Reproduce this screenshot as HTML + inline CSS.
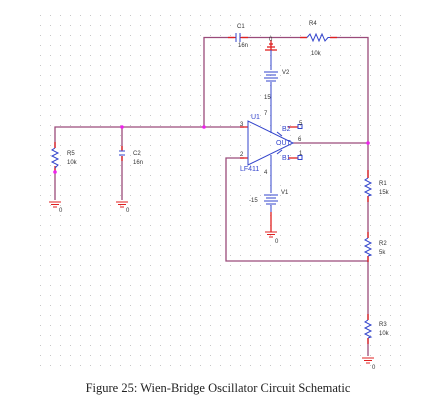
<!DOCTYPE html>
<html><head><style>
html,body{margin:0;padding:0;background:#fff;}
svg{display:block;}
.t{font-family:"Liberation Sans",sans-serif;font-size:6px;fill:#333;}
.b{font-family:"Liberation Sans",sans-serif;font-size:7px;fill:#3344cc;}
</style></head><body>
<svg width="436" height="410" viewBox="0 0 436 410" xmlns="http://www.w3.org/2000/svg">
<defs>
<pattern id="g" x="0" y="5" width="10" height="10" patternUnits="userSpaceOnUse">
<rect x="0" y="0" width="1" height="1" fill="#c8c8c8"/>
</pattern>
<g id="gd" stroke="#e02020" stroke-width="1" fill="none"><line x1="-6" y1="0" x2="6" y2="0"/><line x1="-4" y1="2.5" x2="4" y2="2.5"/><line x1="-2" y1="5" x2="2" y2="5"/></g>
</defs>
<rect x="40" y="15" width="370" height="360" fill="url(#g)"/>
<g fill="none" stroke="#9a4a7a" stroke-width="1.3">
<polyline points="204,127 204,37.5 234,37.5"/>
<line x1="242" y1="37.5" x2="307" y2="37.5"/>
<polyline points="330,37.5 368,37.5 368,178"/>
<line x1="368" y1="196" x2="368" y2="238"/>
<line x1="368" y1="256" x2="368" y2="320"/>
<line x1="368" y1="338" x2="368" y2="356"/>
<polyline points="55,148 55,127 244,127"/>
<line x1="55" y1="168" x2="55" y2="200"/>
<line x1="122" y1="127" x2="122" y2="150"/>
<line x1="122" y1="156" x2="122" y2="200"/>
<line x1="293" y1="143" x2="368" y2="143"/>
<polyline points="244,158 226,158 226,261 368,261"/>
</g>
<g stroke="#e02020" stroke-width="1.3" fill="none">
<line x1="368" y1="170" x2="368" y2="178"/><line x1="368" y1="196" x2="368" y2="202"/>
<line x1="368" y1="232" x2="368" y2="238"/><line x1="368" y1="256" x2="368" y2="262"/>
<line x1="368" y1="314" x2="368" y2="320"/><line x1="368" y1="338" x2="368" y2="344"/>
<line x1="55" y1="142" x2="55" y2="148"/><line x1="55" y1="166" x2="55" y2="172"/>
<line x1="122" y1="146" x2="122" y2="151"/><line x1="122" y1="156" x2="122" y2="161"/>
<line x1="300" y1="37.5" x2="307" y2="37.5"/><line x1="330" y1="37.5" x2="337" y2="37.5"/>
<line x1="228" y1="37.5" x2="236" y2="37.5"/><line x1="240" y1="37.5" x2="248" y2="37.5"/>
<line x1="271" y1="40" x2="271" y2="50"/>
<line x1="240" y1="127" x2="248" y2="127"/><line x1="240" y1="158" x2="248" y2="158"/>
<line x1="288" y1="127" x2="298" y2="127"/><line x1="288" y1="158" x2="298" y2="158"/>
<line x1="271" y1="212" x2="271" y2="232"/>
<line x1="265" y1="50" x2="277" y2="50"/><line x1="267" y1="47" x2="275" y2="47"/><line x1="269" y1="44" x2="273" y2="44"/>
</g>
<use href="#gd" x="55" y="202"/><use href="#gd" x="122" y="202"/><use href="#gd" x="271" y="232"/><use href="#gd" x="368" y="358"/>
<g stroke="#3344cc" stroke-width="1" fill="none">
<line x1="271" y1="50" x2="271" y2="70"/><line x1="271" y1="82" x2="271" y2="133"/>
<line x1="264" y1="72" x2="278" y2="72"/><line x1="266" y1="75" x2="276" y2="75"/><line x1="264" y1="78" x2="278" y2="78"/><line x1="266" y1="81" x2="276" y2="81"/>
<line x1="271" y1="155" x2="271" y2="193"/><line x1="271" y1="205" x2="271" y2="212"/>
<line x1="264" y1="195" x2="278" y2="195"/><line x1="266" y1="198" x2="276" y2="198"/><line x1="264" y1="201" x2="278" y2="201"/><line x1="266" y1="204" x2="276" y2="204"/>
<polygon points="248,121 248,165 293,143"/>
<line x1="236" y1="33" x2="236" y2="42"/><line x1="240" y1="33" x2="240" y2="42"/>
<line x1="119" y1="151" x2="125" y2="151"/><line x1="119" y1="155" x2="125" y2="155"/>
<polyline points="307,37.5 310,34 313,41 316,34 319,41 322,34 325,41 328,37.5 330,37.5"/>
<polyline points="55,148 52,150 58,153 52,156 58,159 52,162 58,165 55,168"/>
<polyline points="368,178 365,180 371,183 365,186 371,189 365,192 371,195 368,196"/>
<polyline points="368,238 365,240 371,243 365,246 371,249 365,252 371,255 368,256"/>
<polyline points="368,320 365,322 371,325 365,328 371,331 365,334 371,337 368,338"/>
<line x1="282" y1="136" x2="277" y2="132"/><line x1="282" y1="150" x2="277" y2="154"/>
<rect x="298" y="124.5" width="4" height="4"/><rect x="298" y="155.5" width="4" height="4"/>
</g>
<g fill="#ee22ee">
<circle cx="122" cy="127" r="1.8"/><circle cx="204" cy="127" r="1.8"/><circle cx="368" cy="143" r="1.8"/><circle cx="55" cy="172" r="1.8"/>
</g>
<text class="t" x="237" y="28">C1</text><text class="t" x="238" y="47">16n</text>
<text class="t" x="309" y="25">R4</text><text class="t" x="311" y="55">10k</text>
<text class="t" x="269" y="41" font-size="7">0</text>
<text class="t" x="282" y="74">V2</text><text class="t" x="264" y="99">15</text>
<text class="t" x="281" y="194">V1</text><text class="t" x="249" y="202">-15</text>
<text class="t" x="275" y="243">0</text>
<text class="t" x="67" y="155">R5</text><text class="t" x="67" y="164">10k</text>
<text class="t" x="133" y="155">C2</text><text class="t" x="133" y="164">16n</text>
<text class="t" x="59" y="212">0</text><text class="t" x="126" y="212">0</text>
<text class="t" x="379" y="185">R1</text><text class="t" x="379" y="194">15k</text>
<text class="t" x="379" y="245">R2</text><text class="t" x="379" y="254">5k</text>
<text class="t" x="379" y="326">R3</text><text class="t" x="379" y="335">10k</text>
<text class="t" x="372" y="369">0</text>
<text class="b" x="251" y="119">U1</text><text class="b" x="240" y="171">LF411</text>
<text class="b" x="276" y="145" font-size="6">OUT</text>
<text class="b" x="282" y="131" font-size="6">B2</text><text class="b" x="282" y="160" font-size="6">B1</text>
<text class="t" x="240" y="126" font-size="7">3</text><text class="t" x="240" y="156" font-size="7">2</text>
<text class="t" x="298" y="141" font-size="7">6</text><text class="t" x="299" y="125" font-size="7">5</text><text class="t" x="299" y="155" font-size="7">1</text>
<text class="t" x="264" y="115">7</text><text class="t" x="264" y="174">4</text>
<text x="218" y="392" text-anchor="middle" font-family="'Liberation Serif',serif" font-size="12.5" fill="#222">Figure 25: Wien-Bridge Oscillator Circuit Schematic</text>
</svg>
</body></html>
